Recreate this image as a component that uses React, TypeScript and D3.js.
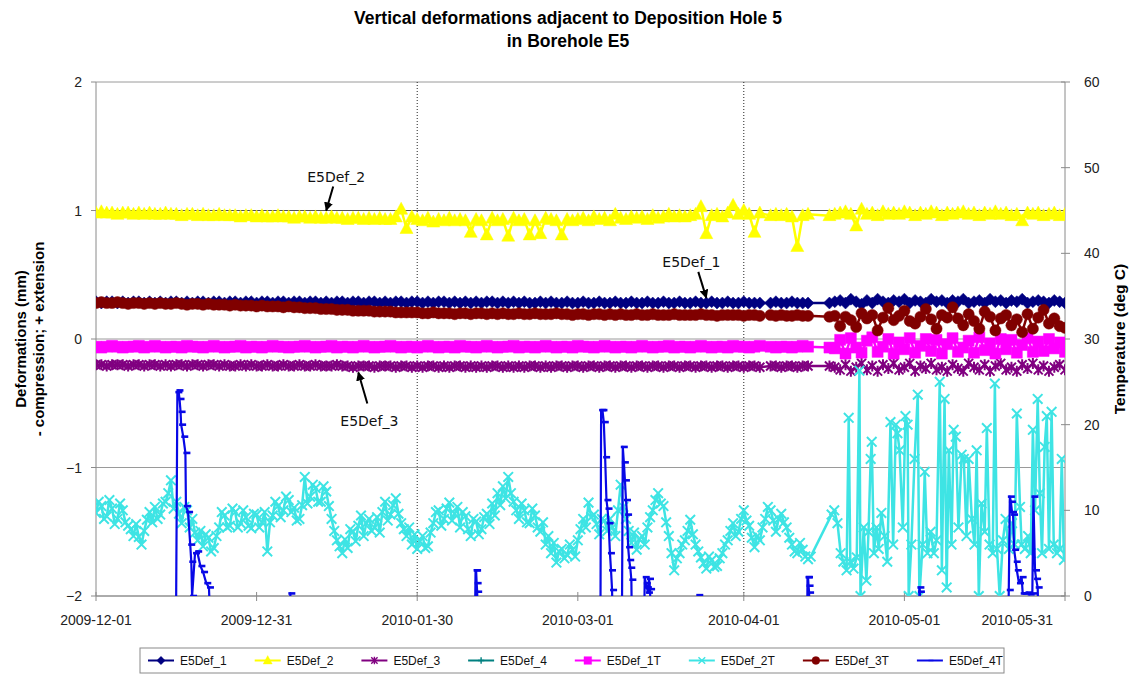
import React, { useEffect, useRef } from 'react';
import * as d3 from 'd3';

// ---- chart texts ----
const titleLines = ['Vertical deformations adjacent to Deposition Hole 5', 'in Borehole E5'];
const leftTitle = ['Deformations (mm)', '- compression; + extension'];
const rightTitle = 'Temperature (deg C)';
const tickDates = ['2009-12-01', '2009-12-31', '2010-01-30', '2010-03-01', '2010-04-01', '2010-05-01', '2010-05-31'];
const dottedDates = ['2010-01-30', '2010-04-01'];

// ---- readings: one value per day from 2009-12-01, null = no reading ----
const def1 = [
  0.29, 0.28, 0.29, 0.29, 0.28, 0.29, 0.28, 0.29, 0.29, 0.28,
  0.29, 0.28, 0.29, 0.28, 0.29, 0.29, 0.28, 0.29, 0.28, 0.29,
  0.29, 0.28, 0.29, 0.29, 0.28, 0.29, 0.29, 0.28, 0.29, 0.29,
  0.28, 0.29, 0.29, 0.28, 0.29, 0.29, 0.28, 0.29, 0.29, 0.28,
  0.29, 0.29, 0.28, 0.29, 0.28, 0.29, 0.29, 0.28, 0.29, 0.29,
  0.28, 0.29, 0.29, 0.28, 0.29, 0.28, 0.29, 0.29, 0.28, 0.29,
  0.29, 0.28, 0.29, 0.28, 0.29, 0.29, 0.28, 0.29, 0.28, 0.29,
  0.28, 0.29, 0.28, 0.29, 0.29, 0.28, 0.29, 0.28, 0.29, 0.28,
  0.29, 0.28, 0.28, 0.29, 0.28, 0.29, 0.28, 0.28, 0.29, 0.28,
  0.28, 0.29, 0.28, 0.28, 0.29, 0.28, 0.28, 0.29, 0.28, 0.28,
  0.29, 0.28, 0.28, 0.29, 0.28, 0.28, 0.29, 0.28, 0.28, 0.29,
  0.28, 0.28, 0.29, 0.28, 0.28, 0.29, 0.28, 0.28, 0.29, 0.28,
  0.28, 0.29, 0.28, 0.28, 0.28, null, 0.28, 0.29, 0.28, 0.28,
  0.29, 0.28, 0.28, 0.28, null, null, null, 0.28, 0.29, 0.30,
  0.28, 0.31, 0.29, 0.27, 0.30, 0.28, 0.31, 0.29, 0.28, 0.30,
  0.29, 0.31, 0.28, 0.30, 0.29, 0.28, 0.31, 0.29, 0.30, 0.28,
  0.30, 0.29, 0.31, 0.28, 0.29, 0.30, 0.28, 0.31, 0.29, 0.30,
  0.28, 0.30, 0.29, 0.31, 0.28, 0.29, 0.30, 0.29, 0.28, 0.30,
  0.29, 0.28,
];

const def2 = [
  0.98, 0.99, 0.98, 0.98, 0.97, 0.98, 0.98, 0.97, 0.98, 0.97,
  0.98, 0.97, 0.97, 0.98, 0.97, 0.97, 0.96, 0.97, 0.97, 0.96,
  0.97, 0.96, 0.96, 0.97, 0.96, 0.96, 0.96, 0.95, 0.96, 0.96,
  0.95, 0.96, 0.95, 0.95, 0.96, 0.95, 0.95, 0.94, 0.95, 0.95,
  0.94, 0.95, 0.94, 0.94, 0.95, 0.94, 0.94, 0.93, 0.94, 0.94,
  0.93, 0.94, 0.93, 0.94, 0.93, 0.93, 0.95, 1.01, 0.86, 0.95,
  0.93, 0.92, 0.94, 0.91, 0.93, 0.92, 0.94, 0.92, 0.93, 0.92,
  0.83, 0.93, 0.92, 0.81, 0.94, 0.92, 0.93, 0.80, 0.94, 0.92,
  0.93, 0.81, 0.92, 0.82, 0.94, 0.93, 0.92, 0.81, 0.93, 0.92,
  0.93, 0.94, 0.92, 0.95, 0.93, 0.94, 0.92, 0.97, 0.94, 0.93,
  0.95, 0.94, 0.95, 0.93, 0.96, 0.94, 0.95, 0.97, 0.95, 0.96,
  0.95, 0.96, 0.97, 1.03, 0.82, 0.96, 0.97, 0.95, 0.98, 1.04,
  0.97, 1.00, 0.97, 0.83, 0.98, null, 0.96, 0.97, 0.96, 0.97,
  0.95, 0.72, 0.96, 0.97, null, null, null, 0.96, 0.97, 0.98,
  0.99, 0.97, 0.88, 1.01, 0.97, 0.98, 0.96, 0.99, 0.97, 0.98,
  0.97, 0.99, 0.98, 0.96, 0.98, 0.97, 0.99, 0.98, 0.96, 0.98,
  0.97, 0.98, 0.99, 0.97, 0.98, 0.96, 0.98, 0.97, 0.99, 0.97,
  0.98, 0.96, 0.97, 0.92, 0.98, 0.97, 0.98, 0.96, 0.97, 0.98,
  0.96, 0.97,
];

const def3 = [
  -0.20, -0.20, -0.21, -0.20, -0.20, -0.20, -0.21, -0.20, -0.20, -0.21,
  -0.20, -0.20, -0.21, -0.20, -0.21, -0.20, -0.20, -0.21, -0.20, -0.20,
  -0.21, -0.20, -0.20, -0.21, -0.20, -0.21, -0.21, -0.20, -0.21, -0.20,
  -0.21, -0.21, -0.20, -0.21, -0.21, -0.20, -0.21, -0.21, -0.20, -0.21,
  -0.21, -0.20, -0.21, -0.21, -0.21, -0.20, -0.21, -0.21, -0.22, -0.21,
  -0.21, -0.21, -0.22, -0.21, -0.21, -0.21, -0.22, -0.21, -0.21, -0.22,
  -0.21, -0.22, -0.21, -0.21, -0.22, -0.21, -0.22, -0.21, -0.21, -0.22,
  -0.21, -0.22, -0.21, -0.22, -0.21, -0.21, -0.22, -0.21, -0.22, -0.21,
  -0.22, -0.21, -0.21, -0.22, -0.21, -0.22, -0.21, -0.21, -0.22, -0.21,
  -0.21, -0.22, -0.21, -0.21, -0.22, -0.21, -0.21, -0.22, -0.21, -0.21,
  -0.22, -0.21, -0.21, -0.22, -0.21, -0.21, -0.22, -0.21, -0.21, -0.22,
  -0.21, -0.21, -0.22, -0.21, -0.21, -0.22, -0.21, -0.21, -0.22, -0.21,
  -0.21, -0.22, -0.21, -0.21, -0.22, null, -0.21, -0.21, -0.22, -0.21,
  -0.21, -0.22, -0.21, -0.21, null, null, null, -0.21, -0.22, -0.24,
  -0.20, -0.25, -0.22, -0.19, -0.24, -0.21, -0.25, -0.20, -0.23, -0.19,
  -0.24, -0.22, -0.19, -0.25, -0.21, -0.23, -0.19, -0.24, -0.22, -0.25,
  -0.20, -0.23, -0.25, -0.19, -0.22, -0.24, -0.20, -0.25, -0.21, -0.19,
  -0.24, -0.22, -0.25, -0.20, -0.23, -0.19, -0.24, -0.21, -0.25, -0.22,
  -0.20, -0.24,
];

// E5Def_4 has no readings inside the plotted range
const def4: (number | null)[] = [];

const def1T = [
  29.1, 29.0, 29.1, 29.2, 29.1, 29.0, 29.1, 29.1, 29.2, 29.0,
  29.1, 29.2, 29.1, 29.0, 29.1, 29.1, 29.0, 29.2, 29.1, 29.1,
  29.0, 29.1, 29.2, 29.1, 29.0, 29.1, 29.1, 29.2, 29.0, 29.1,
  29.1, 29.0, 29.1, 29.2, 29.1, 29.1, 29.0, 29.1, 29.1, 29.2,
  29.1, 29.0, 29.1, 29.1, 29.2, 29.0, 29.1, 29.1, 29.0, 29.1,
  29.2, 29.1, 29.0, 29.1, 29.1, 29.2, 29.1, 29.0, 29.1, 29.1,
  29.0, 29.1, 29.2, 29.1, 29.0, 29.1, 29.1, 29.0, 29.2, 29.1,
  29.1, 29.0, 29.1, 29.2, 29.1, 29.0, 29.1, 29.1, 29.2, 29.0,
  29.1, 29.1, 29.0, 29.1, 29.2, 29.1, 29.0, 29.1, 29.1, 29.0,
  29.2, 29.1, 29.1, 29.0, 29.1, 29.2, 29.1, 29.0, 29.1, 29.1,
  29.0, 29.1, 29.2, 29.1, 29.0, 29.1, 29.1, 29.2, 29.0, 29.1,
  29.1, 29.0, 29.1, 29.2, 29.1, 29.0, 29.1, 29.1, 29.0, 29.2,
  29.1, 29.1, 29.0, 29.1, 29.2, null, 29.1, 29.0, 29.1, 29.1,
  29.0, 29.1, 29.2, 29.1, null, null, null, 29.0, 28.9, 29.9,
  28.3, 30.1, 29.0, 28.4, 29.8, 30.2, 28.5, 29.1, 30.0, 28.3,
  29.6, 28.8, 30.1, 28.4, 29.2, 30.0, 28.6, 29.9, 28.3, 29.4,
  30.1, 28.5, 29.0, 29.8, 28.4, 30.2, 28.7, 29.5, 28.3, 30.0,
  28.8, 29.9, 28.4, 29.3, 30.1, 28.5, 29.7, 28.6, 30.0, 28.9,
  29.6, 28.5,
];

const def3T = [
  34.2, 34.3, 34.2, 34.2, 34.3, 34.2, 34.1, 34.2, 34.2, 34.1,
  34.2, 34.1, 34.2, 34.1, 34.1, 34.2, 34.1, 34.0, 34.1, 34.1,
  34.0, 34.1, 34.0, 34.0, 34.0, 33.9, 34.0, 33.9, 33.9, 33.9,
  33.8, 33.9, 33.8, 33.8, 33.8, 33.7, 33.8, 33.7, 33.7, 33.6,
  33.6, 33.6, 33.5, 33.5, 33.5, 33.4, 33.4, 33.4, 33.3, 33.3,
  33.3, 33.3, 33.2, 33.2, 33.2, 33.2, 33.1, 33.1, 33.1, 33.1,
  33.1, 33.0, 33.0, 33.1, 33.0, 33.0, 33.0, 32.9, 33.0, 33.0,
  32.9, 33.0, 33.0, 32.9, 33.0, 32.9, 33.0, 32.9, 32.9, 33.0,
  32.9, 32.9, 33.0, 32.9, 32.9, 32.9, 33.0, 32.9, 32.9, 32.8,
  32.9, 32.9, 32.8, 32.9, 32.9, 32.8, 32.9, 32.8, 32.9, 32.8,
  32.8, 32.9, 32.8, 32.8, 32.9, 32.8, 32.8, 32.8, 32.9, 32.8,
  32.8, 32.8, 32.8, 32.9, 32.8, 32.8, 32.7, 32.8, 32.8, 32.8,
  32.8, 32.7, 32.8, 32.8, 32.7, null, 32.8, 32.7, 32.8, 32.7,
  32.7, 32.8, 32.7, 32.7, null, null, null, 32.6, 32.7, 31.5,
  32.6, 32.2, 31.4, 33.0, 32.4, 32.8, 31.0, 32.5, 33.6, 32.2,
  32.7, 33.3, 32.1, 31.8, 32.6, 33.5, 32.3, 31.2, 32.8, 32.5,
  33.7, 32.4, 31.6, 32.9, 32.1, 31.2, 33.2, 32.6, 31.0, 32.4,
  32.8, 31.6, 32.3, 30.8, 32.9, 31.2, 32.5, 33.4, 31.8, 32.4,
  31.5, 31.3,
];

// E5Def_2T, two readings a day (00:00, 12:00) from 2009-12-01 to 2010-04-13
const def2TEarly: [number, number][] = [
  [9.7, 11.0], [10.5, 9.0], [9.3, 11.2], [10.2, 8.4], [9.0, 10.8], [10.0, 8.6], [8.2, 7.8], [7.0, 8.4], [6.9, 6.0], [7.6, 8.9],
  [9.8, 8.6], [10.4, 9.0], [9.5, 10.8], [11.0, 12.0], [13.5, 10.2], [11.0, 9.6], [8.5, 10.4], [10.0, 8.0], [9.0, 7.4], [6.5, 7.6],
  [5.8, 7.2], [6.8, 5.2], [5.6, 7.0], [8.0, 9.8], [9.4, 8.0], [8.2, 10.2], [9.8, 8.0], [8.5, 10.0], [9.2, 8.2], [7.9, 9.6],
  [9.5, 8.0], [8.6, 9.8], [5.2, 8.6], [9.4, 11.0], [10.5, 9.2], [10.0, 11.6], [11.2, 9.8], [10.3, 8.8], [9.0, 10.6], [13.9, 10.8],
  [11.6, 13.0], [12.6, 11.0], [11.0, 12.8], [12.2, 10.5], [9.0, 7.6], [6.5, 5.8], [5.0, 6.6], [5.6, 7.8], [7.5, 6.4], [8.2, 9.4],
  [7.0, 8.5], [9.0, 7.6], [8.0, 9.2], [7.4, 9.8], [11.0, 8.8], [9.5, 10.6], [11.4, 9.6], [8.5, 7.8], [7.0, 8.0], [6.0, 7.2],
  [5.5, 6.4], [7.0, 5.6], [5.8, 7.4], [8.5, 9.8], [10.0, 8.2], [9.0, 10.2], [10.9, 8.8], [9.6, 10.4], [8.0, 9.8], [9.3, 7.8],
  [7.0, 9.0], [8.7, 7.2], [7.8, 9.2], [9.6, 8.4], [10.8, 9.4], [12.0, 10.6], [12.8, 11.4], [13.9, 12.0], [11.0, 10.0], [9.0, 10.8],
  [10.0, 8.6], [8.5, 10.2], [9.4, 8.0], [7.5, 8.6], [6.0, 7.0], [5.0, 6.2], [3.9, 5.2], [5.5, 4.4], [4.8, 6.0], [5.4, 4.6],
  [6.5, 7.8], [9.0, 8.0], [10.9, 9.2], [9.5, 8.4], [7.2, 9.0], [8.8, 7.6], [9.0, 8.0], [7.0, 10.0], [13.0, 10.4], [9.0, 7.6],
  [6.2, 7.4], [5.4, 6.6], [7.0, 6.0], [8.0, 9.2], [10.0, 11.2], [12.0, 10.8], [10.5, 8.6], [7.0, 5.0], [3.0, 4.4], [5.0, 6.0],
  [6.5, 7.6], [8.9, 7.2], [6.0, 5.2], [4.5, 3.8], [3.2, 4.6], [4.2, 3.4], [3.5, 4.4], [5.0, 6.0], [6.5, 7.6], [8.5, 7.0],
  [7.5, 9.0], [10.0, 8.8], [8.2, 6.8], [5.7, 7.0], [6.5, 8.0], [9.0, 10.4], [10.0, 8.8], [7.5, 9.0], [9.6, 8.6], [8.0, 6.8],
  [6.0, 5.2], [5.0, 6.2], [5.4, 4.6], [4.3, 4.6],
];

// E5Def_2T after the logger gap: [days after 2009-12-01, deg C]
const def2TLate: [number, number][] = [
  [137.4, 9.5], [137.9, 10.0], [138.5, 8.5], [139.1, 5.0], [139.6, 4.0], [140.2, 3.0], [140.6, 20.8], [140.9, 4.0],
  [141.5, 3.2], [142.1, 4.5], [142.6, 26.3], [142.8, 0.0], [143.4, 8.0], [143.9, 1.8], [144.3, 7.5], [144.7, 16.0],
  [144.9, 18.0], [145.3, 5.0], [145.8, 8.0], [146.2, 5.5], [146.7, 9.7], [147.3, 7.0], [147.8, 4.0], [148.4, 20.3],
  [148.9, 6.0], [149.4, 20.0], [149.7, 19.0], [150.1, 17.0], [150.7, 8.0], [151.2, 21.0], [151.6, 20.0], [151.8, 0.0],
  [152.3, 6.0], [152.9, 16.0], [153.5, 23.5], [153.8, 0.0], [154.4, 6.0], [154.8, 14.5], [155.3, 5.0], [155.9, 7.5],
  [156.5, 5.0], [157.0, 6.5], [157.6, 25.0], [158.0, 3.0], [158.5, 23.0], [158.9, 1.0], [159.3, 17.0], [159.8, 6.0],
  [160.2, 19.4], [160.6, 18.6], [161.1, 8.0], [161.7, 16.5], [162.1, 16.0], [162.6, 7.0], [163.0, 16.0], [163.6, 9.0],
  [164.1, 6.0], [164.5, 17.0], [164.9, 0.0], [165.4, 10.8], [166.0, 7.5], [166.4, 19.6], [166.9, 6.0], [167.5, 5.0],
  [167.9, 24.8], [168.3, 5.5], [168.8, 0.0], [169.4, 6.5], [169.9, 9.0], [170.5, 5.5], [171.1, 8.5], [171.6, 6.0],
  [172.0, 21.3], [172.6, 10.4], [172.9, 6.0], [173.5, 5.5], [174.1, 7.0], [174.6, 5.0], [175.0, 19.4], [175.4, 10.0],
  [175.9, 23.0], [176.3, 12.0], [176.7, 5.0], [177.2, 17.4], [177.6, 21.0], [178.0, 5.5], [178.5, 21.5], [178.9, 6.0],
  [179.5, 5.0], [180.0, 5.5], [180.4, 16.0], [180.8, 4.2],
];

// E5Def_4T is mostly below 0 deg C, only the warm episodes show
const def4T: [number, number][] = [
  [14.9, -8], [15.2, 23.8], [15.4, 24.0], [15.6, 23.0], [15.8, 21.5], [15.9, 20.0], [16.3, 18.6], [16.7, 16.7],
  [16.8, 10.5], [17.2, 9.8], [17.6, 6.0], [17.8, 4.0], [17.95, 0.0], [18.5, 5.0], [18.9, 5.2], [19.5, 3.5],
  [20.0, 2.8], [20.6, 1.5], [21.1, 1.0], [21.6, -8],
  [36.1, -8], [36.3, 0.3], [36.5, -8],
  [70.7, -8], [70.9, 3.0], [71.0, 3.0], [71.1, 1.5], [71.2, 0.5], [71.4, -8],
  [94.2, -8], [94.35, 21.7], [94.6, 21.7], [94.85, 20.3], [95.1, 16.2], [95.35, 11.2], [95.55, 10.2], [95.75, 8.5],
  [96.0, 5.0], [96.2, 3.0], [96.4, 0.7], [96.6, -8],
  [98.2, -8], [98.4, 17.4], [98.6, 15.6], [98.8, 13.5], [99.0, 11.2], [99.2, 9.5], [99.4, 5.7], [99.6, 4.2],
  [99.8, 3.3], [100.0, 1.9], [100.2, -8],
  [102.3, -8], [102.5, 2.2], [102.7, 1.5], [102.9, 1.0], [103.1, 0.4], [103.3, 2.0], [103.5, 0.8], [103.7, -8],
  [112.4, -8], [112.5, 0.1], [112.6, -8],
  [132.8, -8], [132.9, 2.2], [133.0, 2.2], [133.1, 1.2], [133.2, 0.4], [133.4, -8],
  [153.7, -8], [153.8, 1.0], [153.9, 0.5], [154.0, -8],
  [170.3, -8], [170.5, 0.7], [170.7, 11.6], [170.9, 11.0], [171.1, 9.8], [171.3, 9.5], [171.5, 5.4], [171.8, 4.0],
  [172.0, 3.0], [172.4, 1.5], [172.9, 2.2], [173.1, 0.3], [173.5, 0.3], [174.0, 0.4], [174.4, 0.2], [174.9, 0.3],
  [175.1, 11.6], [175.4, 3.0], [175.6, 2.0], [175.9, 1.0], [176.2, -8],
];

// arrows pointing at series: tip in data units, tail offset in px
const callouts = [
  { label: 'E5Def_2', date: '2010-01-13', value: 1.0, dx: 7, dy: -24, tx: 3, ty: -5 },
  { label: 'E5Def_1', date: '2010-03-25', value: 0.32, dx: -8, dy: -26, tx: -7, ty: -5 },
  { label: 'E5Def_3', date: '2010-01-19', value: -0.26, dx: 9, dy: 31, tx: 2, ty: 23 },
];

type Pt = { t: Date; v: number };

const App = () => {
  const ref = useRef<HTMLDivElement>(null);

  useEffect(() => {
    drawChart();
    return () => {
      d3.select(ref.current).selectAll('svg').remove();
    };
  }, []);

  const drawChart = () => {
    const width = 1136;
    const height = 677;
    const plot = { left: 96, right: 1065, top: 82, bottom: 596 };
    const font = '"Liberation Sans", Arial, sans-serif';

    const t0 = Date.UTC(2009, 11, 1);
    const dayDate = (d: number) => new Date(t0 + d * 864e5);
    const parse = d3.utcParse('%Y-%m-%d');

    const x = d3.scaleUtc().domain([dayDate(0), dayDate(181)]).range([plot.left, plot.right]);
    const yL = d3.scaleLinear().domain([-2, 2]).range([plot.bottom, plot.top]);
    const yR = d3.scaleLinear().domain([0, 60]).range([plot.bottom, plot.top]);

    const daily = (arr: (number | null)[]): Pt[] =>
      arr.map((v, i) => ({ t: dayDate(i), v })).filter(p => p.v != null) as Pt[];
    const paired = (arr: [number, number][]): Pt[] => arr.map(([d, v]) => ({ t: dayDate(d), v }));
    const twiceDaily = (arr: [number, number][]): Pt[] =>
      arr.flatMap(([a, b], i) => [{ t: dayDate(i), v: a }, { t: dayDate(i + 0.5), v: b }]);

    const series = [
      { name: 'E5Def_1', color: '#000080', marker: 'diamond', y: yL, pts: daily(def1) },
      { name: 'E5Def_2', color: '#FFFF00', marker: 'triangle', y: yL, pts: daily(def2) },
      { name: 'E5Def_3', color: '#800080', marker: 'star', y: yL, pts: daily(def3) },
      { name: 'E5Def_4', color: '#008080', marker: 'plus', y: yL, pts: daily(def4) },
      { name: 'E5Def_1T', color: '#FF00FF', marker: 'square', y: yR, pts: daily(def1T) },
      { name: 'E5Def_2T', color: '#3EE4E4', marker: 'x', y: yR, pts: twiceDaily(def2TEarly).concat(paired(def2TLate)) },
      { name: 'E5Def_3T', color: '#800000', marker: 'circle', y: yR, pts: daily(def3T) },
      { name: 'E5Def_4T', color: '#0808E6', marker: 'dash', y: yR, pts: paired(def4T) },
    ];

    // marker shapes, drawn around 0,0
    const markerPath = (type: string) => {
      switch (type) {
        case 'diamond': return 'M0,-6L6,0L0,6L-6,0Z';
        case 'triangle': return 'M0,-7L6.5,5L-6.5,5Z';
        case 'star': return 'M-4.5,-4.5L4.5,4.5M-4.5,4.5L4.5,-4.5M0,-5.5V5.5';
        case 'plus': return 'M-4.5,0H4.5M0,-4.5V4.5';
        case 'square': return 'M-5.5,-5.5H5.5V5.5H-5.5Z';
        case 'x': return 'M-4.8,-4.8L4.8,4.8M-4.8,4.8L4.8,-4.8';
        case 'circle': return 'M5.6,0A5.6,5.6 0 1,1 -5.6,0A5.6,5.6 0 1,1 5.6,0Z';
        default: return 'M-2,0H5';
      }
    };
    const filled = (type: string) => ['diamond', 'triangle', 'square', 'circle'].includes(type);

    const svg = d3
      .select(ref.current)
      .append('svg')
      .attr('width', width)
      .attr('height', height)
      .style('display', 'block')
      .style('background', '#fff');

    const defs = svg.append('defs');
    defs.append('clipPath').attr('id', 'plotClip')
      .append('rect')
      .attr('x', plot.left).attr('y', plot.top)
      .attr('width', plot.right - plot.left).attr('height', plot.bottom - plot.top);
    defs.append('marker')
      .attr('id', 'arrowHead')
      .attr('viewBox', '0 0 10 10')
      .attr('refX', 9).attr('refY', 5)
      .attr('markerWidth', 4.5).attr('markerHeight', 4.5)
      .attr('orient', 'auto')
      .append('path').attr('d', 'M0,0L10,5L0,10Z').attr('fill', '#000');

    // title
    svg.append('g').selectAll('text')
      .data(titleLines)
      .enter().append('text')
      .attr('x', 568)
      .attr('y', (d, i) => 24 + i * 23)
      .attr('text-anchor', 'middle')
      .attr('font-family', font)
      .attr('font-size', '17.5px')
      .attr('font-weight', 'bold')
      .text(d => d);

    // horizontal grid lines
    svg.append('g').selectAll('line')
      .data(yL.ticks(4))
      .enter().append('line')
      .attr('x1', plot.left).attr('x2', plot.right)
      .attr('y1', d => yL(d)).attr('y2', d => yL(d))
      .attr('stroke', d => (d === 1 ? '#555' : '#9a9a9a'))
      .attr('stroke-width', 1);

    // dotted date markers
    svg.append('g').selectAll('line')
      .data(dottedDates)
      .enter().append('line')
      .attr('x1', d => x(parse(d)!)).attr('x2', d => x(parse(d)!))
      .attr('y1', plot.top).attr('y2', plot.bottom)
      .attr('stroke', '#222')
      .attr('stroke-width', 1)
      .attr('stroke-dasharray', '1,2');

    // axis lines
    const axisG = svg.append('g').attr('stroke', '#8a8a8a').attr('stroke-width', 1);
    axisG.append('line').attr('x1', plot.left).attr('x2', plot.left).attr('y1', plot.top).attr('y2', plot.bottom);
    axisG.append('line').attr('x1', plot.right).attr('x2', plot.right).attr('y1', plot.top).attr('y2', plot.bottom);
    axisG.append('line').attr('x1', plot.left).attr('x2', plot.right).attr('y1', plot.bottom).attr('y2', plot.bottom);
    axisG.selectAll('.lt').data(yL.ticks(4)).enter().append('line')
      .attr('x1', plot.left - 5).attr('x2', plot.left).attr('y1', d => yL(d)).attr('y2', d => yL(d));
    axisG.selectAll('.rt').data(yR.ticks(6)).enter().append('line')
      .attr('x1', plot.right - 4).attr('x2', plot.right + 5).attr('y1', d => yR(d)).attr('y2', d => yR(d));
    axisG.selectAll('.bt').data(tickDates).enter().append('line')
      .attr('x1', d => x(parse(d)!)).attr('x2', d => x(parse(d)!))
      .attr('y1', plot.bottom - 4).attr('y2', plot.bottom + 5);

    // tick labels
    const labelG = svg.append('g')
      .attr('font-family', font).attr('font-size', '14px').attr('fill', '#222');
    labelG.selectAll('.ll').data(yL.ticks(4)).enter().append('text')
      .attr('x', plot.left - 14).attr('y', d => yL(d) + 5)
      .attr('text-anchor', 'end').text(d => d3.format('d')(d));
    labelG.selectAll('.rl').data(yR.ticks(6)).enter().append('text')
      .attr('x', plot.right + 19).attr('y', d => yR(d) + 5)
      .text(d => d3.format('d')(d));
    // the last date label is pulled inside, the way the source chart shows it
    labelG.selectAll('.bl').data(tickDates).enter().append('text')
      .attr('x', (d, i) => (i === tickDates.length - 1 ? x(parse(d)!) - 12 : x(parse(d)!)))
      .attr('y', plot.bottom + 29)
      .attr('text-anchor', (d, i) => (i === tickDates.length - 1 ? 'end' : 'middle'))
      .text(d => d);

    // axis titles
    const midY = (plot.top + plot.bottom) / 2;
    svg.append('g').selectAll('text')
      .data(leftTitle)
      .enter().append('text')
      .attr('transform', (d, i) => `translate(${26 + i * 18},${midY}) rotate(-90)`)
      .attr('text-anchor', 'middle')
      .attr('font-family', font).attr('font-size', '15px').attr('font-weight', 'bold')
      .text(d => d);
    svg.append('text')
      .attr('transform', `translate(${1125},${midY}) rotate(-90)`)
      .attr('text-anchor', 'middle')
      .attr('font-family', font).attr('font-size', '15.5px').attr('font-weight', 'bold')
      .text(rightTitle);

    // series
    const dataG = svg.append('g').attr('clip-path', 'url(#plotClip)');
    series.forEach(s => {
      if (!s.pts.length) return;
      const line = d3.line<Pt>().x(p => x(p.t)).y(p => s.y(p.v));
      const g = dataG.append('g');
      g.append('path')
        .attr('d', line(s.pts))
        .attr('fill', 'none')
        .attr('stroke', s.color)
        .attr('stroke-width', s.marker === 'dash' ? 2.2 : 2.5)
        .attr('stroke-linejoin', 'round');
      g.selectAll('path.m')
        .data(s.pts)
        .enter().append('path')
        .attr('class', 'm')
        .attr('transform', p => `translate(${x(p.t)},${s.y(p.v)})`)
        .attr('d', markerPath(s.marker))
        .attr('fill', filled(s.marker) ? s.color : 'none')
        .attr('stroke', s.color)
        .attr('stroke-width', filled(s.marker) ? 0.5 : s.marker === 'dash' ? 2.6 : 2);
    });

    // callouts
    const callG = svg.append('g');
    callouts.forEach(c => {
      const tipX = x(parse(c.date)!);
      const tipY = yL(c.value);
      const tailX = tipX + c.dx;
      const tailY = tipY + c.dy;
      callG.append('line')
        .attr('x1', tailX).attr('y1', tailY)
        .attr('x2', tipX).attr('y2', tipY)
        .attr('stroke', '#000').attr('stroke-width', 2)
        .attr('marker-end', 'url(#arrowHead)');
      callG.append('text')
        .attr('x', tailX + c.tx).attr('y', tailY + c.ty)
        .attr('text-anchor', 'middle')
        .attr('font-family', '"DejaVu Sans", sans-serif').attr('font-size', '14px')
        .attr('fill', '#111')
        .text(c.label);
    });

    // legend
    const legend = { left: 140, top: 648, height: 25, right: 1004 };
    svg.append('rect')
      .attr('x', legend.left).attr('y', legend.top)
      .attr('width', legend.right - legend.left).attr('height', legend.height)
      .attr('fill', '#fff').attr('stroke', '#8a8a8a');
    let lx = legend.left + 8;
    const ly = legend.top + legend.height / 2;
    series.forEach(s => {
      const item = svg.append('g');
      item.append('line')
        .attr('x1', lx).attr('x2', lx + 26).attr('y1', ly).attr('y2', ly)
        .attr('stroke', s.color).attr('stroke-width', 2);
      item.append('path')
        .attr('transform', `translate(${lx + 13},${ly}) scale(0.7)`)
        .attr('d', markerPath(s.marker))
        .attr('fill', filled(s.marker) ? s.color : 'none')
        .attr('stroke', s.color)
        .attr('stroke-width', filled(s.marker) ? 0.5 : 2);
      const txt = item.append('text')
        .attr('x', lx + 32).attr('y', ly + 4.5)
        .attr('font-family', font).attr('font-size', '12px').attr('fill', '#111')
        .text(s.name);
      const w = (txt.node() as SVGTextElement).getComputedTextLength();
      lx += 32 + w + 28;
    });
  };

  return <div ref={ref} style={{ position: 'absolute', left: 0, top: 0 }} />;
};

export default App;
